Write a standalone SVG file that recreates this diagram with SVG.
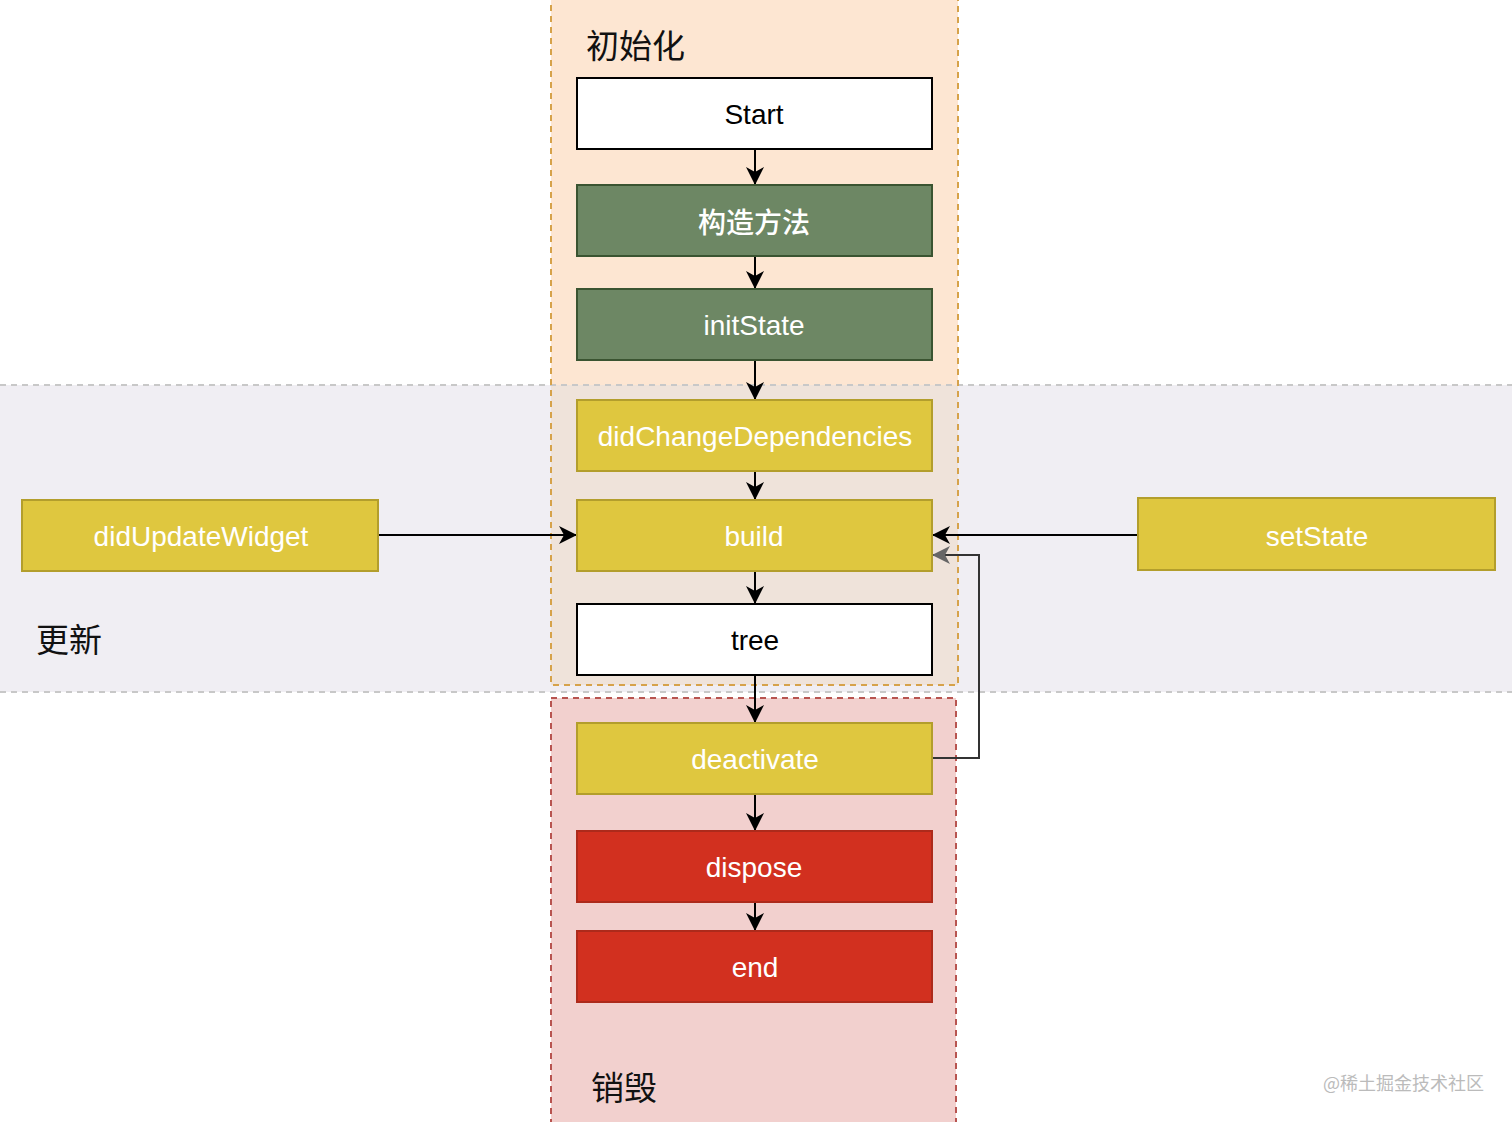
<svg xmlns="http://www.w3.org/2000/svg" width="1512" height="1122" viewBox="0 0 1512 1122">
<defs>
<style>
.node-white{fill:#ffffff;stroke:#000000;stroke-width:2}
.node-green{fill:#6d8764;stroke:#3a5431;stroke-width:2}
.node-yellow{fill:#dfc73f;stroke:#b39e2c;stroke-width:2}
.node-red{fill:#d2301f;stroke:#ad2a1b;stroke-width:2}
.t{font-family:"Liberation Sans",Arial,sans-serif;font-size:28px;text-anchor:middle;dominant-baseline:central}
.tw{fill:#ffffff}
.tb{fill:#000000}
.lbl{font-family:"Noto Sans CJK SC","Noto Sans",sans-serif;font-size:33px;fill:#111111}
.edge{fill:none;stroke:#000000;stroke-width:2}
</style>
<marker id="arr" markerUnits="userSpaceOnUse" markerWidth="20" markerHeight="20" refX="18" refY="10" orient="auto" viewBox="0 0 20 20">
<path d="M0,1 L18,10 L0,19 L5,10 z" fill="#000000"/>
</marker>
<marker id="arrg" markerUnits="userSpaceOnUse" markerWidth="20" markerHeight="20" refX="18" refY="10" orient="auto" viewBox="0 0 20 20">
<path d="M0,1 L18,10 L0,19 L5,10 z" fill="#666666"/>
</marker>
</defs>
<rect x="0" y="0" width="1512" height="1122" fill="#ffffff"/>
<g id="containers">
<rect x="551" y="-5" width="407" height="690" fill="#fde6d2"/>
<rect x="0" y="385" width="1512" height="307" fill="#f0eef3"/>
<rect x="551" y="385" width="407" height="300" fill="#efe3da"/>
<rect x="551" y="698" width="405" height="430" fill="#f2d0ce" stroke="#b85450" stroke-width="2" stroke-dasharray="6 5"/>
<line x1="0" y1="385" x2="1512" y2="385" stroke="#c8c8c8" stroke-width="2" stroke-dasharray="6 5"/>
<line x1="0" y1="692" x2="1512" y2="692" stroke="#c8c8c8" stroke-width="2" stroke-dasharray="6 5"/>
<rect x="551" y="-5" width="407" height="690" fill="none" stroke="#d6a24a" stroke-width="2" stroke-dasharray="6 5"/>
<text class="lbl" x="586" y="58">初始化</text>
<text class="lbl" x="36" y="652">更新</text>
<text class="lbl" x="591" y="1100">销毁</text>
</g>
<g id="connectors">
<line class="edge" x1="755" y1="149" x2="755" y2="185" marker-end="url(#arr)"/>
<line class="edge" x1="755" y1="256" x2="755" y2="289" marker-end="url(#arr)"/>
<line class="edge" x1="755" y1="360" x2="755" y2="400" marker-end="url(#arr)"/>
<line class="edge" x1="755" y1="471" x2="755" y2="500" marker-end="url(#arr)"/>
<line class="edge" x1="755" y1="571" x2="755" y2="604" marker-end="url(#arr)"/>
<line class="edge" x1="755" y1="675" x2="755" y2="723" marker-end="url(#arr)"/>
<line class="edge" x1="755" y1="794" x2="755" y2="831" marker-end="url(#arr)"/>
<line class="edge" x1="755" y1="902" x2="755" y2="931" marker-end="url(#arr)"/>
<line class="edge" x1="378" y1="535" x2="577" y2="535" marker-end="url(#arr)"/>
<line class="edge" x1="1138" y1="535" x2="932" y2="535" marker-end="url(#arr)"/>
<path d="M932,758 L979,758 L979,555 L932,555" fill="none" stroke="#333333" stroke-width="2" marker-end="url(#arrg)"/>
</g>
<g id="node-start"><rect class="node-white" x="577" y="78" width="355" height="71"/><text class="t tb" x="754" y="114">Start</text></g>
<g id="node-constructor"><rect class="node-green" x="577" y="185" width="355" height="71"/><text class="t tw" x="754" y="221" style="font-family:'Noto Sans CJK SC','Noto Sans',sans-serif;font-weight:500">构造方法</text></g>
<g id="node-initState"><rect class="node-green" x="577" y="289" width="355" height="71"/><text class="t tw" x="754" y="325">initState</text></g>
<g id="node-didChangeDependencies"><rect class="node-yellow" x="577" y="400" width="355" height="71"/><text class="t tw" x="755" y="436">didChangeDependencies</text></g>
<g id="node-build"><rect class="node-yellow" x="577" y="500" width="355" height="71"/><text class="t tw" x="754" y="536">build</text></g>
<g id="node-tree"><rect class="node-white" x="577" y="604" width="355" height="71"/><text class="t tb" x="755" y="640">tree</text></g>
<g id="node-deactivate"><rect class="node-yellow" x="577" y="723" width="355" height="71"/><text class="t tw" x="755" y="759">deactivate</text></g>
<g id="node-dispose"><rect class="node-red" x="577" y="831" width="355" height="71"/><text class="t tw" x="754" y="867">dispose</text></g>
<g id="node-end"><rect class="node-red" x="577" y="931" width="355" height="71"/><text class="t tw" x="755" y="967">end</text></g>
<g id="node-didUpdateWidget"><rect class="node-yellow" x="22" y="500" width="356" height="71"/><text class="t tw" x="201" y="536">didUpdateWidget</text></g>
<g id="node-setState"><rect class="node-yellow" x="1138" y="498" width="357" height="72"/><text class="t tw" x="1317" y="536">setState</text></g>
<text x="1323" y="1090" style="font-family:'Noto Sans CJK SC','Noto Sans',sans-serif;font-size:18px;fill:#bbbbbb">@稀土掘金技术社区</text>
</svg>
